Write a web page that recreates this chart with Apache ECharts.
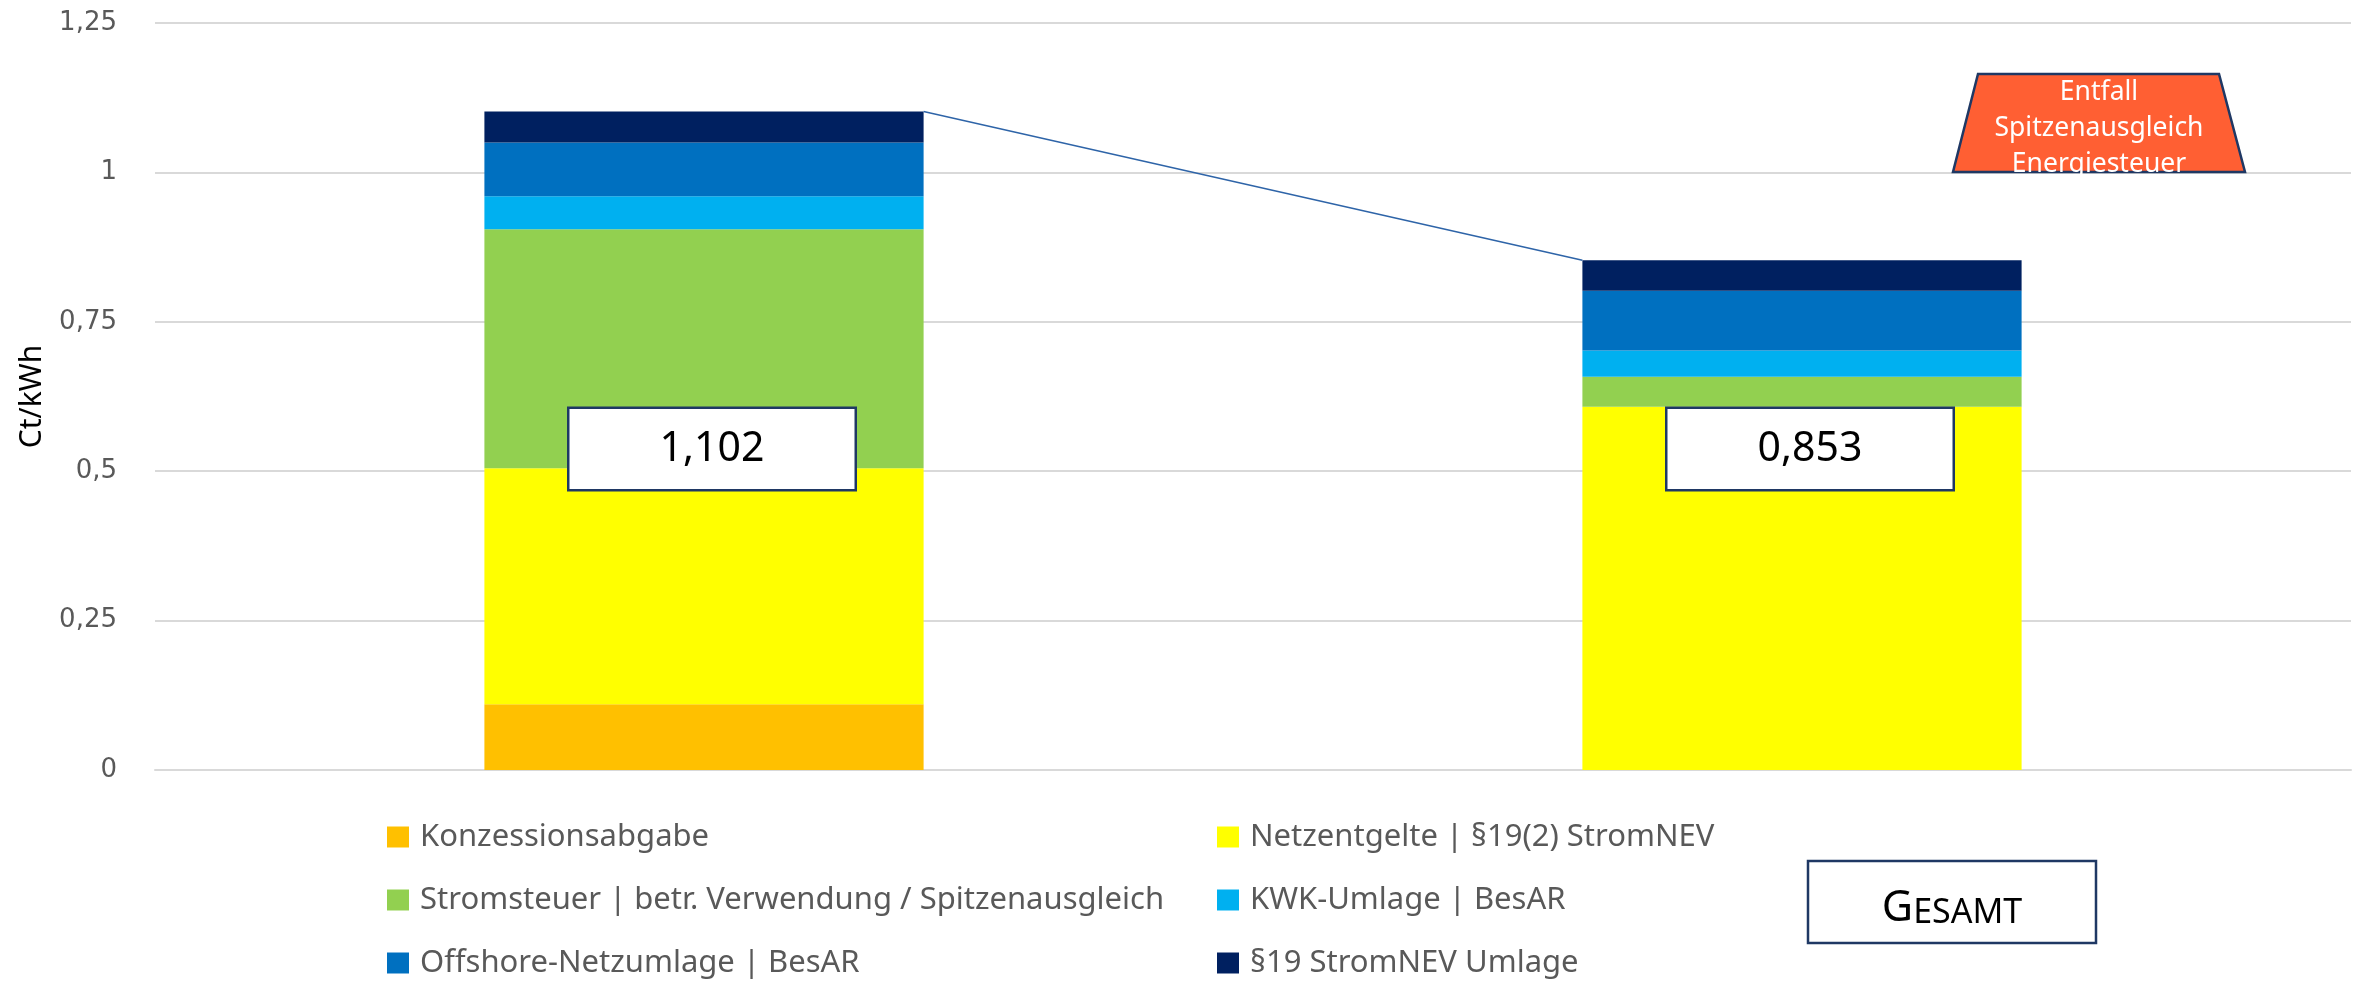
<!DOCTYPE html>
<html>
<head>
<meta charset="utf-8">
<script src="https://cdn.jsdelivr.net/npm/echarts@6/dist/echarts.min.js"></script>
<style>
  html, body { margin: 0; padding: 0; background: #fff; }
  #chart { width: 2359px; height: 985px; }
</style>
</head>
<body>
<div id="chart"></div>
<script>
// Werte in Ct/kWh, von unten nach oben gestapelt
const categories = ['Bisher', 'Neu'];
const konzession = [0.11, 0];
const netzentgelte = [0.395, 0.608];
const stromsteuer = [0.40, 0.05];
const kwk = [0.055, 0.044];
const offshore = [0.09, 0.10];
const stromnev19 = [0.052, 0.051];
const yTicks = [0, 0.25, 0.5, 0.75, 1, 1.25];

const seriesDefs = [
  { name: 'Konzessionsabgabe', data: konzession, color: '#FFC000' },
  { name: 'Netzentgelte | §19(2) StromNEV', data: netzentgelte, color: '#FFFF00' },
  { name: 'Stromsteuer | betr. Verwendung / Spitzenausgleich', data: stromsteuer, color: '#92D050' },
  { name: 'KWK-Umlage | BesAR', data: kwk, color: '#00B0F0' },
  { name: 'Offshore-Netzumlage | BesAR', data: offshore, color: '#0070C0' },
  { name: '§19 StromNEV Umlage', data: stromnev19, color: '#002060' }
];

const totals = categories.map((c, i) => seriesDefs.reduce((s, d) => s + d.data[i], 0));
const fmt = v => (Math.round(v * 1000) / 1000).toString().replace('.', ',');

const BAR_WIDTH = 0.4;     // Anteil der Kategoriebreite
const LABEL_LEVEL = 0.537; // Höhe der Summen-Boxen (Ct/kWh)
const font = 'Noto Sans';

const chart = echarts.init(document.getElementById('chart'));

const legendBase = {
  orient: 'vertical', top: 821, height: 200, padding: 0,
  itemWidth: 22, itemHeight: 21, itemGap: 31,
  icon: 'rect',
  textStyle: { fontFamily: font, fontSize: 31, color: '#595959', lineHeight: 32, padding: [0, 0, 0, 6] }
};

let option = {
  animation: false,
  grid: { left: 155, right: 8, top: 23, bottom: 215, containLabel: false },
  legend: [
    Object.assign({}, legendBase, {
      left: 387,
      data: [seriesDefs[0].name, seriesDefs[2].name, seriesDefs[4].name]
    }),
    Object.assign({}, legendBase, {
      left: 1217,
      data: [seriesDefs[1].name, seriesDefs[3].name, seriesDefs[5].name]
    })
  ],
  xAxis: {
    type: 'category',
    data: categories,
    axisTick: { show: false },
    axisLabel: { show: false },
    axisLine: { show: true, lineStyle: { color: '#D9D9D9', width: 2 } }
  },
  yAxis: {
    type: 'value',
    min: 0, max: 1.25, interval: 0.25,
    name: 'Ct/kWh',
    nameLocation: 'middle',
    nameGap: 108,
    nameTextStyle: { fontFamily: font, fontSize: 30, color: '#000' },
    splitLine: { lineStyle: { color: '#D9D9D9', width: 2 } },
    axisLine: { show: false },
    axisTick: { show: false },
    axisLabel: {
      margin: 38,
      fontFamily: 'DejaVu Sans', fontSize: 26, color: '#595959',
      formatter: v => yTicks.indexOf(v) >= 0 ? fmt(v) : ''
    }
  },
  series: []
};

option.series = seriesDefs.map(d => ({
  name: d.name,
  type: 'bar',
  stack: 'total',
  barWidth: (BAR_WIDTH * 100) + '%',
  itemStyle: { color: d.color },
  data: d.data
}));

// Verbindungslinie zwischen den Säulenoberkanten
option.series.push({
  type: 'custom',
  name: 'Verbindung',
  data: totals.slice(0, -1).map((t, i) => [i, t, i + 1, totals[i + 1]]),
  encode: { x: [0, 2], y: [1, 3] },
  z: 5,
  renderItem: (params, api) => {
    const a = api.coord([api.value(0), api.value(1)]);
    const b = api.coord([api.value(2), api.value(3)]);
    const half = api.size([1, 0])[0] * BAR_WIDTH / 2;
    return {
      type: 'line',
      shape: { x1: a[0] + half, y1: a[1], x2: b[0] - half, y2: b[1] },
      style: { stroke: '#2E64A8', lineWidth: 1.5 }
    };
  }
});

// Summen-Boxen
option.series.push({
  type: 'scatter',
  name: 'Summe',
  symbolSize: 1,
  itemStyle: { color: 'rgba(0,0,0,0)', opacity: 1 },
  z: 10,
  data: totals.map((t, i) => [i, LABEL_LEVEL, t]),
  label: {
    show: true,
    opacity: 1,
    position: 'inside',
    offset: [8, 0],
    formatter: p => fmt(p.value[2]),
    fontFamily: font, fontSize: 41, color: '#000',
    backgroundColor: '#fff',
    borderColor: '#1F3864', borderWidth: 2.5,
    width: 285, height: 80, lineHeight: 80,
    align: 'center', verticalAlign: 'middle'
  }
});

option.graphic = [
  {
    type: 'polygon',
    shape: { points: [[1978, 74], [2219, 74], [2245, 172], [1953, 172]] },
    style: { fill: '#FF5F33', stroke: '#1F3864', lineWidth: 2.5 },
    z: 20
  },
  {
    type: 'text',
    x: 2099, y: 128,
    z: 21,
    style: {
      text: 'Entfall\nSpitzenausgleich\nEnergiesteuer',
      fill: '#fff', fontFamily: font, fontSize: 26.5, lineHeight: 36,
      align: 'center', verticalAlign: 'middle'
    }
  },
  {
    // Text unten wie im Original abschneiden
    type: 'rect',
    shape: { x: 1990, y: 174, width: 220, height: 16 },
    style: { fill: '#fff' },
    z: 22
  },
  {
    type: 'rect',
    shape: { x: 1808, y: 861, width: 288, height: 82 },
    style: { fill: '#fff', stroke: '#1F3864', lineWidth: 2.5 },
    z: 20
  },
  {
    type: 'text',
    x: 1952, y: 909,
    z: 21,
    style: {
      text: '{g|G}{s|ESAMT}',
      align: 'center', verticalAlign: 'middle',
      rich: {
        g: { fontFamily: font, fontSize: 43, fill: '#000', verticalAlign: 'bottom' },
        s: { fontFamily: font, fontSize: 34, fill: '#000', verticalAlign: 'bottom' }
      }
    }
  }
];

option && chart.setOption(option);
</script>
</body>
</html>
